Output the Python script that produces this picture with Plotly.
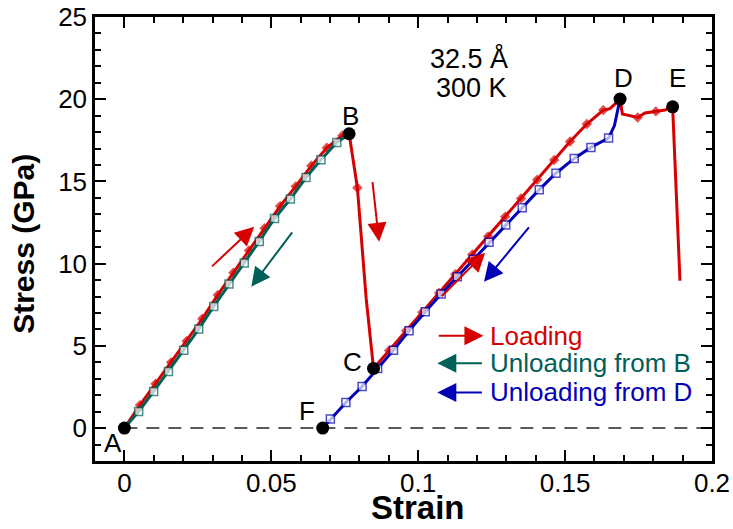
import plotly.graph_objects as go

# ---- loading path A -> B -> C -> D -> E (strain, stress in GPa) ----
load_strain = [0.0, 0.0053, 0.0106, 0.0159, 0.0212, 0.0265, 0.0318, 0.0371, 0.0424,
               0.0477, 0.0530, 0.0583, 0.0636, 0.0689, 0.0742, 0.0765,
               0.0793, 0.0823, 0.0848,
               0.0901, 0.0959, 0.1014, 0.1071, 0.1126, 0.1184, 0.1238, 0.1296,
               0.1350, 0.1405, 0.1463, 0.1517, 0.1574, 0.1630, 0.1653, 0.1687,
               0.1695, 0.1747, 0.1772, 0.1809, 0.1840, 0.1866, 0.1891]
load_stress = [0.0, 1.4, 2.7, 4.0, 5.3, 6.65, 8.1, 9.45, 10.8,
               12.15, 13.5, 14.7, 15.95, 17.05, 17.8, 17.9,
               14.62, 7.87, 3.63,
               4.72, 5.92, 7.05, 8.22, 9.36, 10.55, 11.66, 12.86,
               13.97, 15.10, 16.30, 17.43, 18.49, 19.34, 19.43, 20.01,
               19.1, 18.89, 19.16, 19.26, 19.34, 19.54, 8.96]
load_marked = [0, 1, 1, 1, 1, 1, 1, 1, 1,
               1, 1, 1, 1, 1, 1, 0,
               1, 0, 0,
               1, 1, 1, 1, 1, 1, 1, 1,
               1, 1, 1, 1, 1, 1, 0, 0,
               0, 1, 0, 1, 0, 0, 0]

# ---- unloading from B back to A ----
unload_b_strain = [0.0765, 0.0723, 0.0669, 0.0618, 0.0565, 0.0511, 0.0459, 0.0408,
                   0.0356, 0.0304, 0.0253, 0.0202, 0.0150, 0.00997, 0.00486, 0.0]
unload_b_stress = [17.9, 17.37, 16.32, 15.24, 13.93, 12.75, 11.35, 10.04,
                   8.76, 7.40, 6.02, 4.74, 3.44, 2.23, 1.01, 0.0]
unload_b_marked = [0, 1, 1, 1, 1, 1, 1, 1, 1, 1, 1, 1, 1, 1, 1, 0]

# ---- unloading from D down to F ----
unload_d_strain = [0.1687, 0.1668, 0.1648, 0.1588, 0.1531, 0.1469, 0.1412, 0.1354,
                   0.1298, 0.1241, 0.1187, 0.1133, 0.1078, 0.1024, 0.0969, 0.0916,
                   0.0862, 0.0809, 0.0754, 0.0701, 0.0675]
unload_d_stress = [20.01, 18.4, 17.64, 17.07, 16.4, 15.5, 14.5, 13.4,
                   12.35, 11.3, 10.25, 9.2, 8.15, 7.07, 5.92, 4.74,
                   3.62, 2.53, 1.56, 0.55, 0.0]
unload_d_marked = [0, 0, 1, 1, 1, 1, 1, 1, 1, 1, 1, 1, 1, 1, 1, 1, 1, 1, 1, 1, 0]

# ---- labelled states ----
state_names = ["A", "B", "C", "D", "E", "F"]
state_strain = [0.0, 0.0765, 0.0848, 0.1687, 0.1866, 0.0675]
state_stress = [0.0, 17.9, 3.63, 20.01, 19.54, 0.0]
# label positions (strain, stress) for each state letter
label_strain = [-0.0040, 0.0770, 0.0775, 0.1700, 0.1884, 0.0620]
label_stress = [-0.93, 19.0, 4.0, 21.3, 21.3, 1.05]

x_ticks = [0, 0.05, 0.1, 0.15, 0.2]
x_tick_text = ["0", "0.05", "0.1", "0.15", "0.2"]
y_ticks = [0, 5, 10, 15, 20, 25]

RED = "rgb(215,0,0)"
TEAL = "rgb(0,96,88)"
BLUE = "rgb(0,0,185)"
FONT = "Liberation Sans, Arial, sans-serif"

fig = go.Figure()

# zero-stress reference
fig.add_trace(go.Scatter(x=[0, 0.2], y=[0, 0], mode="lines",
                         line=dict(color="rgb(90,90,90)", width=2, dash="13px,9px"),
                         hoverinfo="skip", showlegend=False))

fig.add_trace(go.Scatter(
    x=load_strain, y=load_stress, mode="lines+markers",
    line=dict(color=RED, width=3),
    marker=dict(symbol="diamond", color=RED, size=[8 * m for m in load_marked],
                line=dict(width=0)),
    showlegend=False))

fig.add_trace(go.Scatter(
    x=unload_b_strain, y=unload_b_stress, mode="lines+markers",
    line=dict(color=TEAL, width=3),
    marker=dict(symbol="square", color="white", size=[8 * m for m in unload_b_marked],
                line=dict(color=TEAL, width=1.5)),
    showlegend=False))

fig.add_trace(go.Scatter(
    x=unload_d_strain, y=unload_d_stress, mode="lines+markers",
    line=dict(color=BLUE, width=3),
    marker=dict(symbol="square", color="white", size=[8 * m for m in unload_d_marked],
                line=dict(color=BLUE, width=1.5)),
    showlegend=False))

fig.add_trace(go.Scatter(x=state_strain, y=state_stress, mode="markers",
                         marker=dict(color="black", size=13),
                         showlegend=False))

annotations = []
for name, lx, ly in zip(state_names, label_strain, label_stress):
    annotations.append(dict(x=lx, y=ly, text=name, showarrow=False,
                            font=dict(size=26, color="black", family=FONT)))

# size / temperature note
annotations.append(dict(x=0.1172, y=22.49, text="32.5 Å", showarrow=False,
                        font=dict(size=27, color="black", family=FONT)))
annotations.append(dict(x=0.1180, y=20.67, text="300 K", showarrow=False,
                        font=dict(size=27, color="black", family=FONT)))


def arrow(x_tail, y_tail, x_head, y_head, color):
    return dict(x=x_head, y=y_head, ax=x_tail, ay=y_tail, xref="x", yref="y",
                axref="x", ayref="y", text="", showarrow=True,
                arrowhead=2, arrowsize=1.9, arrowwidth=2, arrowcolor=color)


# direction arrows on the curves
annotations += [
    arrow(0.0293, 9.75, 0.0442, 12.25, RED),
    arrow(0.0575, 12.0, 0.0432, 8.6, TEAL),
    arrow(0.0844, 15.05, 0.0867, 11.33, RED),
    arrow(0.1075, 7.93, 0.1228, 10.67, RED),
    arrow(0.1381, 12.3, 0.1224, 8.9, BLUE),
]

# key: arrow + text per path
key_text = ["Loading", "Unloading from B", "Unloading from D"]
key_color = [RED, TEAL, BLUE]
key_stress = [5.62, 3.95, 2.17]
key_tail = [0.1065, 0.1222, 0.1222]
key_head = [0.1222, 0.1065, 0.1065]
for t, c, ys, xt, xh in zip(key_text, key_color, key_stress, key_tail, key_head):
    annotations.append(arrow(xt, ys, xh, ys, c))
    annotations.append(dict(x=0.1236, y=ys, text=t, showarrow=False, xanchor="left",
                            font=dict(size=26, color=c, family=FONT)))

# axis titles
annotations.append(dict(x=0.1, y=-0.104, xref="x", yref="paper", text="<b>Strain</b>",
                        showarrow=False, yanchor="middle",
                        font=dict(size=33, color="black", family=FONT)))
annotations.append(dict(x=-0.116, y=0.49, xref="paper", yref="paper",
                        text="<b>Stress (GPa)</b>", textangle=-90, showarrow=False,
                        xanchor="center", yanchor="middle",
                        font=dict(size=30, color="black", family=FONT)))

axis_common = dict(showgrid=False, zeroline=False, showline=True, linecolor="black",
                   linewidth=2.5, mirror="ticks", ticks="inside", tickcolor="black",
                   tickwidth=2, ticklen=11, automargin=False,
                   tickfont=dict(size=26, color="black", family=FONT))

fig.update_layout(
    width=733, height=529,
    margin=dict(l=95, r=21, t=17, b=68, autoexpand=False),
    paper_bgcolor="white", plot_bgcolor="white",
    xaxis=dict(range=[-0.01, 0.2], tickvals=x_ticks, ticktext=x_tick_text,
               ticklabelstandoff=-3,
               minor=dict(dtick=0.01, ticks="inside", ticklen=6, tickwidth=1.5,
                          tickcolor="black", tick0=0),
               **axis_common),
    yaxis=dict(range=[-2, 25], tickvals=y_ticks,
               minor=dict(dtick=1, ticks="inside", ticklen=6, tickwidth=1.5,
                          tickcolor="black", tick0=0),
               **axis_common),
    annotations=annotations,
)

fig.write_html("out.html")
